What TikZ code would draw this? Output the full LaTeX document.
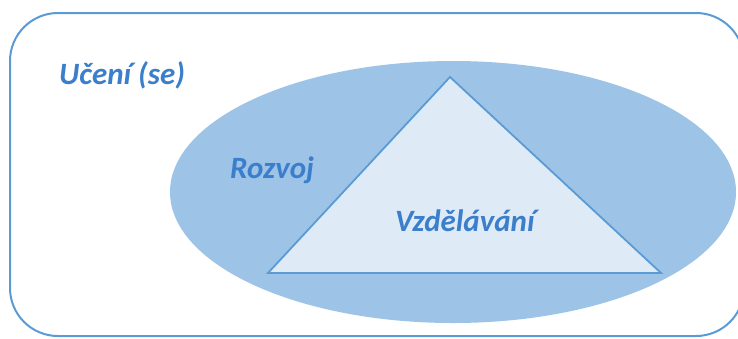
\documentclass[tikz,border=0pt]{standalone}
\usepackage{fontspec}
\setmainfont{Carlito}
\usetikzlibrary{shapes.geometric}
\definecolor{frameblue}{RGB}{91,155,213}
\definecolor{ellblue}{RGB}{157,195,230}
\definecolor{trifill}{RGB}{222,235,247}
\definecolor{txtblue}{RGB}{58,126,204}
\begin{document}
\begin{tikzpicture}[x=1pt,y=-1pt,
  lbl/.style={font=\fontsize{31}{36}\selectfont\bfseries\itshape, text=txtblue, inner sep=0pt, anchor=base west}]
\useasboundingbox (0,0) rectangle (738,338);
\begin{scope}
\clip (0,0) rectangle (738,338);
\draw[frameblue, line width=2pt, rounded corners=48pt] (10,13) rectangle (744,336);
\node[ellipse, fill=ellblue, minimum width=566pt, minimum height=262pt, inner sep=0pt] (ell) at (453,192) {};
\end{scope}
\coordinate (apex) at (450,77);
\coordinate (bl) at (268,273);
\coordinate (br) at (661,273);
\draw[frameblue, fill=trifill, line width=1.8pt, line join=miter] (apex) -- (bl) -- (br) -- cycle;
\node[lbl] (ucen) at (59,84) {Učení (se)};
\node[lbl] (rozv) at (230,178) {Rozvoj};
\node[lbl] (vzdel) at (395,231) {Vzdělávání};
\end{tikzpicture}
\end{document}
